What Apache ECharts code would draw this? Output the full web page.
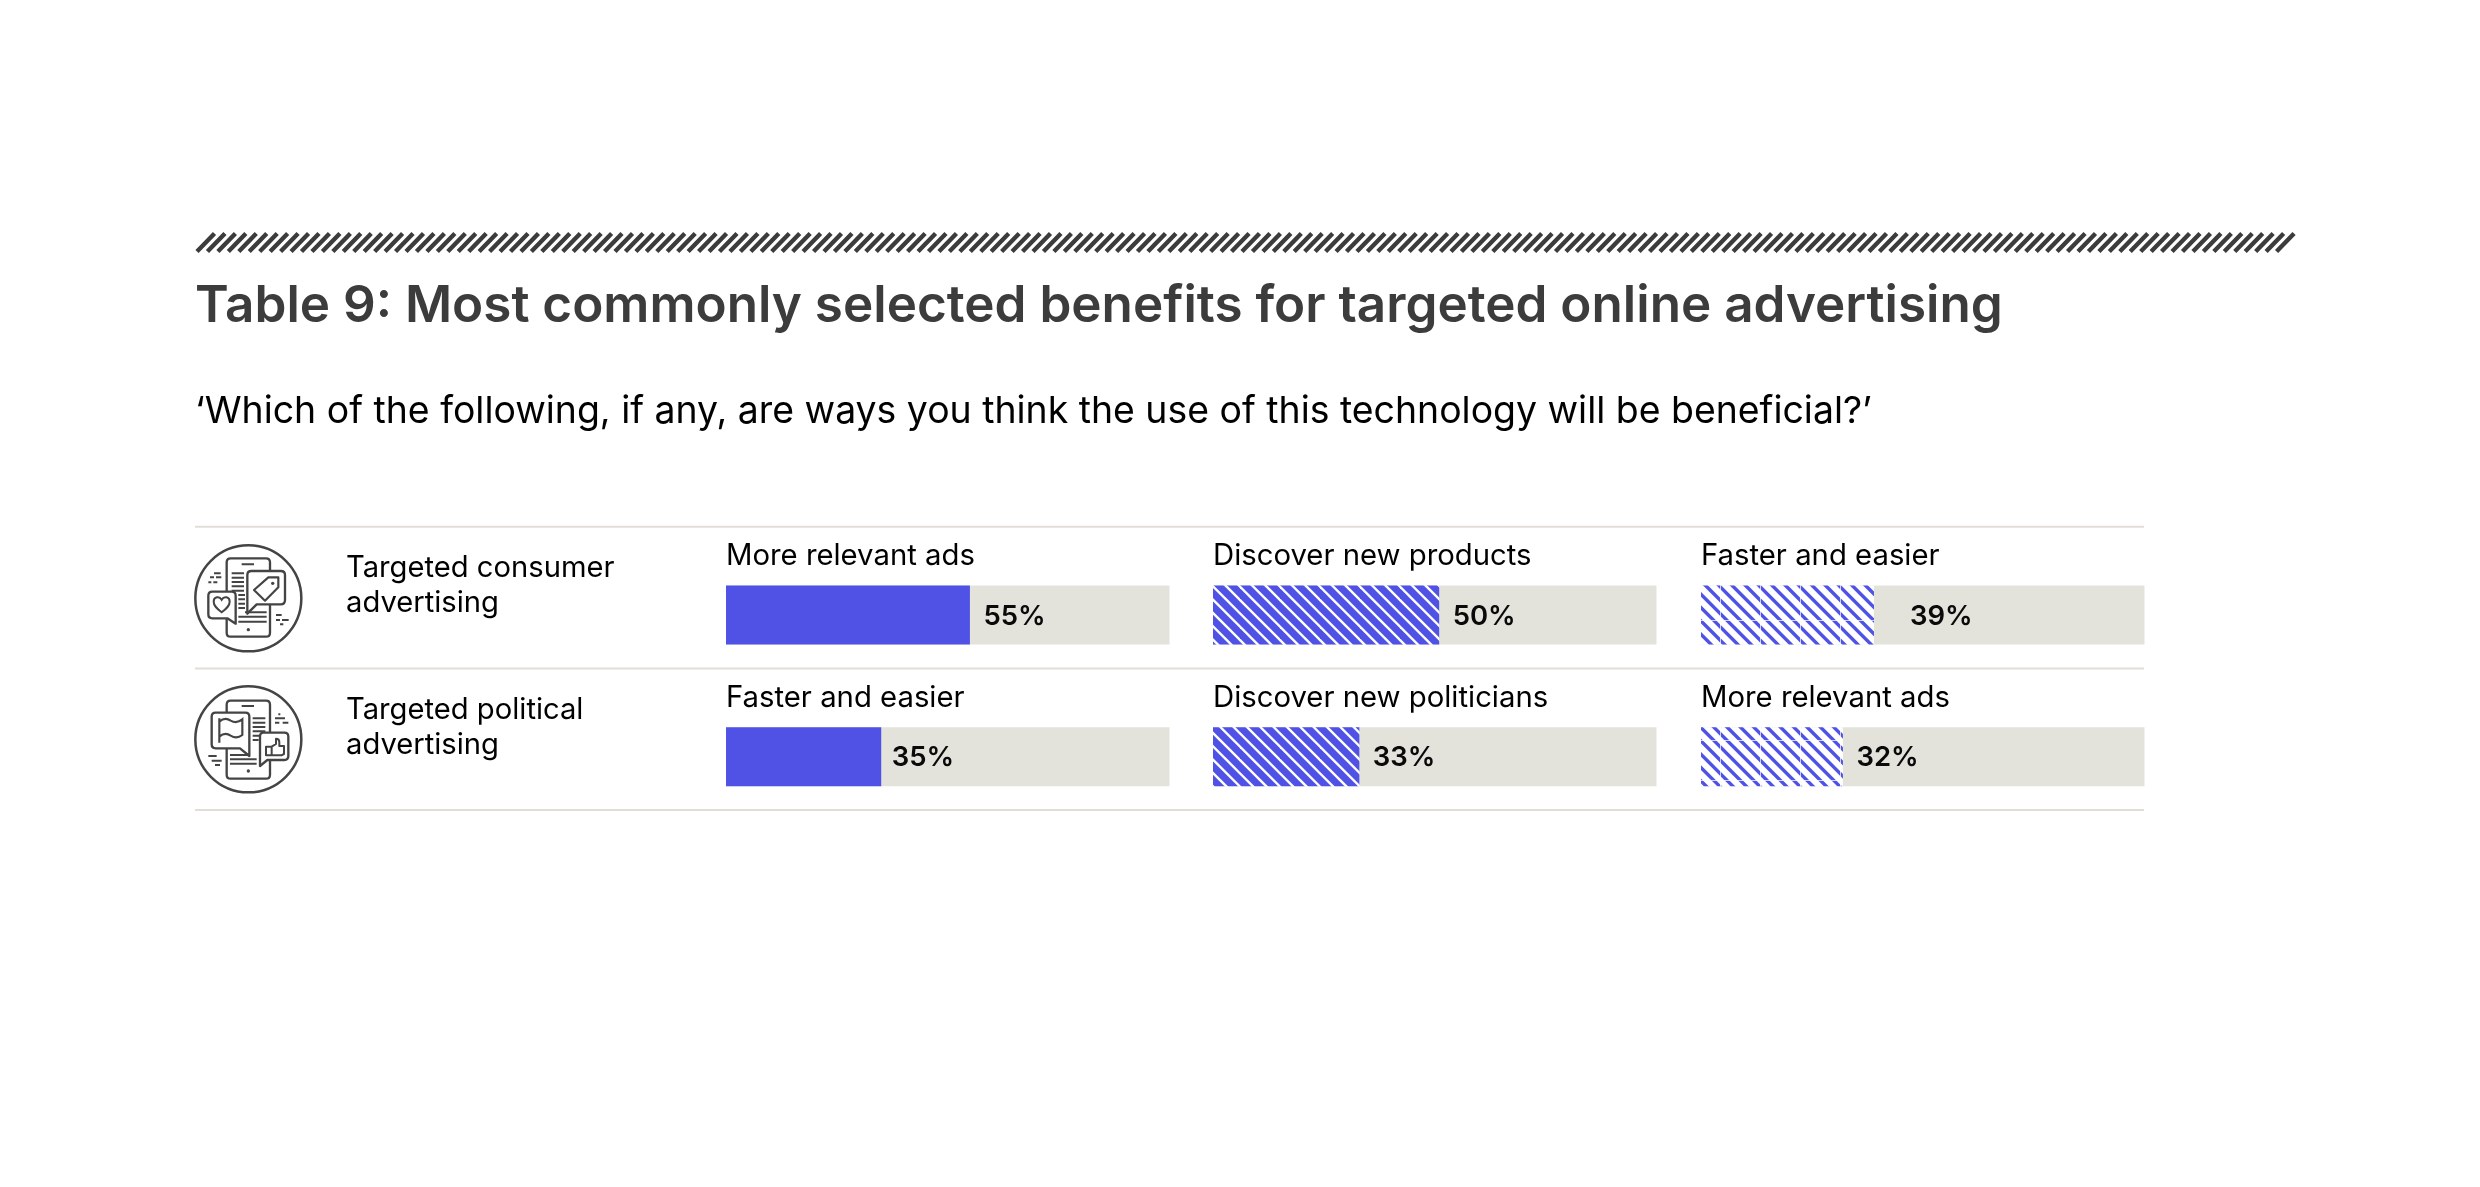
<!DOCTYPE html>
<html><head><meta charset="utf-8">
<style>html,body{margin:0;padding:0;background:#fff}#c{width:2480px;height:1187px}</style>
<script src="https://cdn.jsdelivr.net/npm/echarts@6/dist/echarts.min.js"></script>
</head><body><div id="c"></div>
<script>
const titleText = 'Table 9: Most commonly selected benefits for targeted online advertising';
const questionText = '\u2018Which of the following, if any, are ways you think the use of this technology will be beneficial?\u2019';
const rowNames = ['Targeted consumer\nadvertising', 'Targeted political\nadvertising'];
const consumerBenefits = ['More relevant ads', 'Discover new products', 'Faster and easier'];
const politicalBenefits = ['Faster and easier', 'Discover new politicians', 'More relevant ads'];
const consumerBarLengths = [55, 51, 39];
const politicalBarLengths = [35, 33, 32];
const consumerLabels = ['55%', '50%', '39%'];
const politicalLabels = ['35%', '33%', '32%'];

const BLUE = '#4f52e5', TRACK = '#e3e3dc', RULE = '#e2ddd6', INK = '#3c3c3c';
const FONT = 'Inter, "Noto Sans", sans-serif';

function hatch(stripeColor, baseColor, width, seams) {
  const t = 40, cv = document.createElement('canvas');
  cv.width = t; cv.height = t;
  const g = cv.getContext('2d');
  g.fillStyle = baseColor; g.fillRect(0, 0, t, t);
  g.strokeStyle = stripeColor; g.lineWidth = width;
  for (let k = -6; k <= 6; k++) {
    const c = k * t / 3;
    g.beginPath(); g.moveTo(c - 10, -10); g.lineTo(c + t + 10, t + 10); g.stroke();
  }
  if (seams) {
    g.fillStyle = 'rgba(255,255,255,0.75)';
    g.fillRect(0, 0, 1, t); g.fillRect(0, 20, t, 1);
  }
  return { image: cv, repeat: 'repeat' };
}
const fills = [BLUE, hatch('#ffffff', BLUE, 2.4, false), hatch(BLUE, '#ffffff', 3.4, true)];

const colLeft = [726, 1213, 1701], rowTop = [585.6, 727.2];
const grids = [], xAxes = [], yAxes = [], series = [];
[[consumerBenefits, consumerBarLengths, consumerLabels],
 [politicalBenefits, politicalBarLengths, politicalLabels]].forEach((row, r) => {
  row[0].forEach((name, c) => {
    const i = grids.length;
    grids.push({ left: colLeft[c], top: rowTop[r], width: 443.5, height: 59 });
    xAxes.push({ type: 'value', gridIndex: i, min: 0, max: 100, show: false });
    yAxes.push({
      type: 'category', gridIndex: i, data: [name], name: name,
      nameLocation: 'end', nameGap: 15,
      nameTextStyle: { color: '#000', fontFamily: FONT, fontSize: 29.3, align: 'left', verticalAlign: 'bottom', padding: [0, 0, 0, 0] },
      axisLine: { show: false }, axisTick: { show: false }, axisLabel: { show: false }, splitLine: { show: false }
    });
    const gap = (r === 0 && c === 2) ? 36 : (r === 1 && c === 0) ? 10.5 : 13.5;
    series.push({
      type: 'bar', xAxisIndex: i, yAxisIndex: i, barWidth: '100%', silent: true, animation: false,
      showBackground: true, backgroundStyle: { color: TRACK },
      itemStyle: { color: fills[c] },
      label: {
        show: true, position: 'right', distance: gap, offset: [0, 1.5],
        formatter: row[2][c], color: '#0a0a0a', fontFamily: FONT, fontSize: 27.5, fontWeight: 600
      },
      data: [row[1][c]]
    });
  });
});

let shapeCount = 0;
function p(d, st) {
  const name = 'shp' + (shapeCount++);
  echarts.graphic.registerShape(name, echarts.graphic.extendPath(d, {}));
  return { type: name, shape: {}, style: st, silent: true };
}

const graphics = [];
[526.7, 668.5, 810].forEach(y => graphics.push({
  type: 'line', shape: { x1: 195, y1: y, x2: 2144, y2: y }, style: { stroke: RULE, lineWidth: 2 }, silent: true
}));
let band = '';
for (let x = 197; x < 2278; x += 10.45) band += 'M' + x.toFixed(2) + ' 251.5L' + (x + 17.5).toFixed(2) + ' 233.5';
graphics.push(p(band, { stroke: INK, lineWidth: 4.4, fill: null }));
rowNames.forEach((t, r) => graphics.push({
  type: 'text', x: 346, y: [550.5, 692.5][r],
  style: { text: t, fill: '#000', font: '29.2px ' + FONT, lineHeight: 35, align: 'left' }, silent: true
}));

const iconStroke = { stroke: '#444', lineWidth: 7, fill: '#fff', lineJoin: 'round' };
const linesOnly = { stroke: '#444', lineWidth: 6, fill: null };
function rrect(x0, y0, x1, y1, r) {
  return `M${x0 + r} ${y0}H${x1 - r}Q${x1} ${y0} ${x1} ${y0 + r}V${y1 - r}Q${x1} ${y1} ${x1 - r} ${y1}H${x0 + r}Q${x0} ${y1} ${x0} ${y1 - r}V${y0 + r}Q${x0} ${y0} ${x0 + r} ${y0}Z`;
}
const icon1 = [
  { type: 'circle', shape: { cx: 175, cy: 190, r: 159 }, style: { stroke: '#444', lineWidth: 7.5, fill: '#fff' }, silent: true },
  p(rrect(110, 70, 240, 305, 12), iconStroke),
  p('M155 88H192M125 115H162M125 128H162M125 141H162M125 154H162M125 167H162M145 180H165M145 193H165M145 206H165M145 219H165M145 245H230M145 260H230M165 232H230', linesOnly),
  p('M184 108H272Q285 108 285 120V195Q285 208 272 208H200L172 236V120Q172 108 184 108Z', iconStroke),
  p('M192 165L235 127H265V157L225 197Z', { stroke: '#444', lineWidth: 6.5, fill: '#fff', lineJoin: 'round' }),
  { type: 'circle', shape: { cx: 248, cy: 145, r: 5 }, style: { fill: '#444' }, silent: true },
  { type: 'circle', shape: { cx: 175, cy: 284, r: 5 }, style: { fill: '#444' }, silent: true },
  p('M67 170H125Q137 170 137 182V266L112 250H67Q55 250 55 238V182Q55 170 67 170Z', iconStroke),
  p('M95 232C80 220 71 212 71 200C71 185 88 182 95 194C102 182 119 185 119 200C119 212 110 220 95 232Z', { stroke: '#444', lineWidth: 6, fill: '#fff' }),
  p('M72 115H92M60 127H72M78 127H94M55 142H64M70 142H82M258 240H275M258 255H270M276 255H296M270 268H280', linesOnly)
];
const icon2 = [
  { type: 'circle', shape: { cx: 175, cy: 178, r: 159 }, style: { stroke: '#444', lineWidth: 7.5, fill: '#fff' }, silent: true },
  p(rrect(110, 62, 240, 296, 12), iconStroke),
  p('M155 78H192M188 115H226M188 128H226M188 141H226M188 154H226M188 167H226M188 180H206M120 225H175M120 238H200M120 251H200M255 115H285M268 100V106M255 128H268M278 128H295M55 228H80M65 242H95M75 255H90', linesOnly),
  p('M77 98H166Q178 98 178 110V228L150 205H77Q65 205 65 193V110Q65 98 77 98Z', iconStroke),
  p('M88 115V188M88 125Q105 110 122 122Q140 132 157 118V165Q140 178 122 167Q105 155 88 170', { stroke: '#444', lineWidth: 6.5, fill: null }),
  p('M220 158H283Q295 158 295 170V228Q295 240 283 240H232L210 258V170Q210 158 220 158Z', iconStroke),
  p('M228 200H245V226H228ZM245 200L258 192V176Q268 176 268 186V198H282V222L274 226H245', { stroke: '#444', lineWidth: 6, fill: '#fff', lineJoin: 'round' }),
  { type: 'circle', shape: { cx: 175, cy: 273, r: 5 }, style: { fill: '#444' }, silent: true }
];
graphics.push({ type: 'group', x: 190, y: 535, scaleX: 1 / 3, scaleY: 1 / 3, children: icon1 });
graphics.push({ type: 'group', x: 190, y: 680, scaleX: 1 / 3, scaleY: 1 / 3, children: icon2 });

const chart = echarts.init(document.getElementById('c'), null, { renderer: 'canvas' });
chart.setOption({
  animation: false,
  backgroundColor: '#fff',
  title: [
    { text: titleText, left: 195, top: 281, padding: 0, textStyle: { color: INK, fontFamily: FONT, fontSize: 51.2, fontWeight: 600 } },
    { text: questionText, left: 195, top: 393, padding: 0, textStyle: { color: '#000', fontFamily: FONT, fontSize: 37.4, fontWeight: 400 } }
  ],
  grid: grids, xAxis: xAxes, yAxis: yAxes, series: series,
  graphic: { elements: graphics }
});
</script></body></html>
